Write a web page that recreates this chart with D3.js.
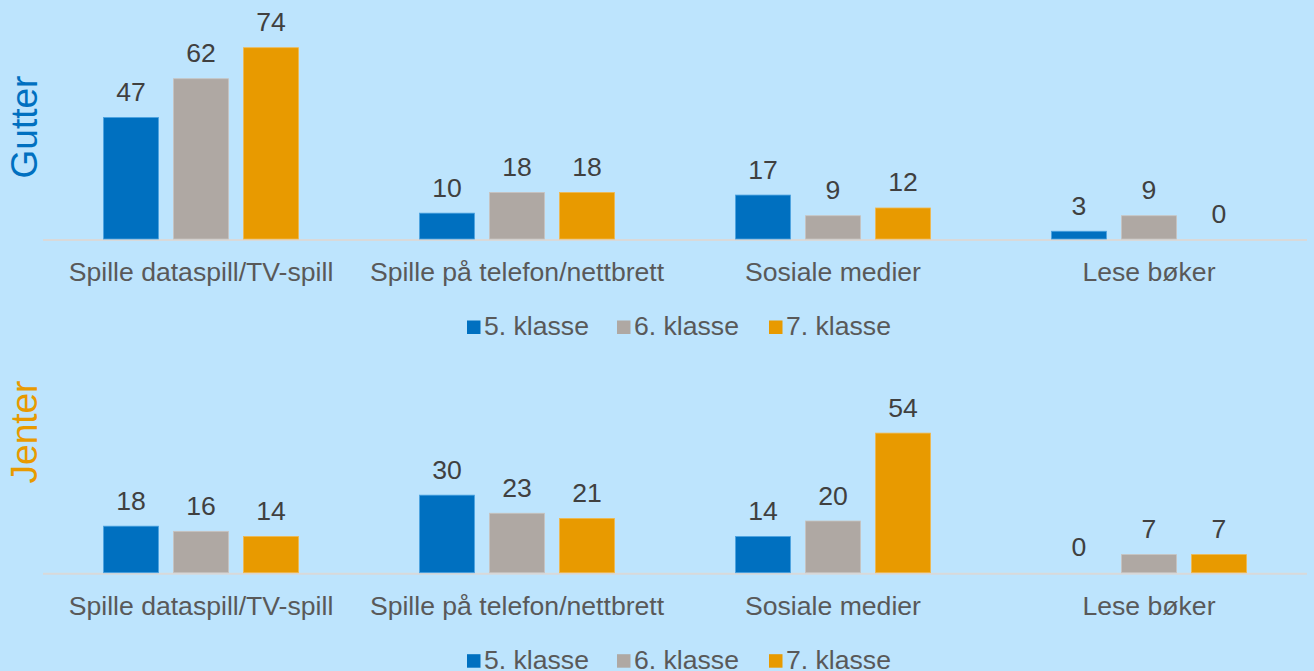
<!DOCTYPE html>
<html>
<head>
<meta charset="utf-8">
<script src="https://cdn.jsdelivr.net/npm/d3@7"></script>
<style>
  html, body { margin: 0; padding: 0; background: #bde4fd; }
  svg { display: block; font-family: "Liberation Sans", Arial, sans-serif; }
</style>
</head>
<body>
<svg id="chart" width="1314" height="671"></svg>
<script>
// Activities and school years
const categories = ["Spille dataspill/TV-spill", "Spille på telefon/nettbrett", "Sosiale medier", "Lese bøker"];
const grades = ["5. klasse", "6. klasse", "7. klasse"];

// Percent per activity for each grade
const boys5 = [47, 10, 17, 3];
const boys6 = [62, 18, 9, 9];
const boys7 = [74, 18, 12, 0];

const girls5 = [18, 30, 14, 0];
const girls6 = [16, 23, 20, 7];
const girls7 = [14, 21, 54, 7];

const panelTitles = ["Gutter", "Jenter"];

const colors = ["#0070c0", "#afa8a3", "#e89a00"];
const strokes = ["#4da3e0", "#c9c3bf", "#f2b84d"];
const titleColors = ["#0070c0", "#e89a00"];

const FONT = 26.6;

const svg = d3.select("#chart");

const x = d3.scaleBand().domain(categories).range([43, 1307]).padding(0);
const xs = d3.scaleBand().domain(grades).range([0, x.bandwidth()])
  .paddingInner(0.2143).paddingOuter(0.864);

const panels = [
  { title: panelTitles[0], series: [boys5, boys6, boys7], base: 239 },
  { title: panelTitles[1], series: [girls5, girls6, girls7], base: 572.7 }
];

const yMax = 80;
const yHeight = 80 * 2.585;

panels.forEach((p, pi) => {
  const y = d3.scaleLinear().domain([0, yMax]).range([p.base, p.base - yHeight]);
  const g = svg.append("g");

  // baseline
  g.append("line")
    .attr("x1", x.range()[0]).attr("x2", x.range()[1])
    .attr("y1", y(0) + 1).attr("y2", y(0) + 1)
    .attr("stroke", "#d9d9d9").attr("stroke-width", 2);

  const rows = [];
  grades.forEach((gr, gi) => {
    categories.forEach((c, ci) => rows.push({ cat: c, grade: gr, gi, value: p.series[gi][ci] }));
  });

  g.selectAll("rect.bar").data(rows.filter(d => d.value > 0)).join("rect")
    .attr("class", "bar")
    .attr("x", d => x(d.cat) + xs(d.grade))
    .attr("width", xs.bandwidth())
    .attr("y", d => y(d.value))
    .attr("height", d => y(0) - y(d.value))
    .attr("fill", d => colors[d.gi])
    .attr("stroke", d => strokes[d.gi])
    .attr("stroke-width", 0.8);

  g.selectAll("text.val").data(rows).join("text")
    .attr("class", "val")
    .attr("x", d => x(d.cat) + xs(d.grade) + xs.bandwidth() / 2)
    .attr("y", d => y(d.value) - 16.5)
    .attr("text-anchor", "middle")
    .attr("font-size", FONT)
    .attr("fill", "#404040")
    .text(d => d.value);

  // category axis labels
  const axis = d3.axisBottom(x).tickSize(0).tickPadding(0);
  const ax = g.append("g").attr("transform", `translate(0,${y(0)})`).call(axis);
  ax.select(".domain").remove();
  ax.selectAll("text")
    .attr("y", 42).attr("dy", 0)
    .attr("font-size", FONT)
    .attr("font-family", "Liberation Sans, Arial, sans-serif")
    .attr("fill", "#595959");

  // legend
  const legendX = [467, 617, 769];
  const lg = g.append("g").attr("transform", `translate(0,${y(0) + 96})`);
  grades.forEach((gr, gi) => {
    lg.append("rect")
      .attr("x", legendX[gi]).attr("y", -14.5)
      .attr("width", 13.5).attr("height", 13.5)
      .attr("fill", colors[gi]);
    lg.append("text")
      .attr("x", legendX[gi] + 17).attr("y", 0)
      .attr("font-size", FONT).attr("fill", "#595959")
      .text(gr);
  });

  // panel title (rotated)
  const cy = pi === 0 ? 127 : 432;
  g.append("text")
    .attr("transform", `translate(37,${cy}) rotate(-90)`)
    .attr("text-anchor", "middle")
    .attr("font-size", 37)
    .attr("fill", titleColors[pi])
    .text(p.title);
});
</script>
</body>
</html>
